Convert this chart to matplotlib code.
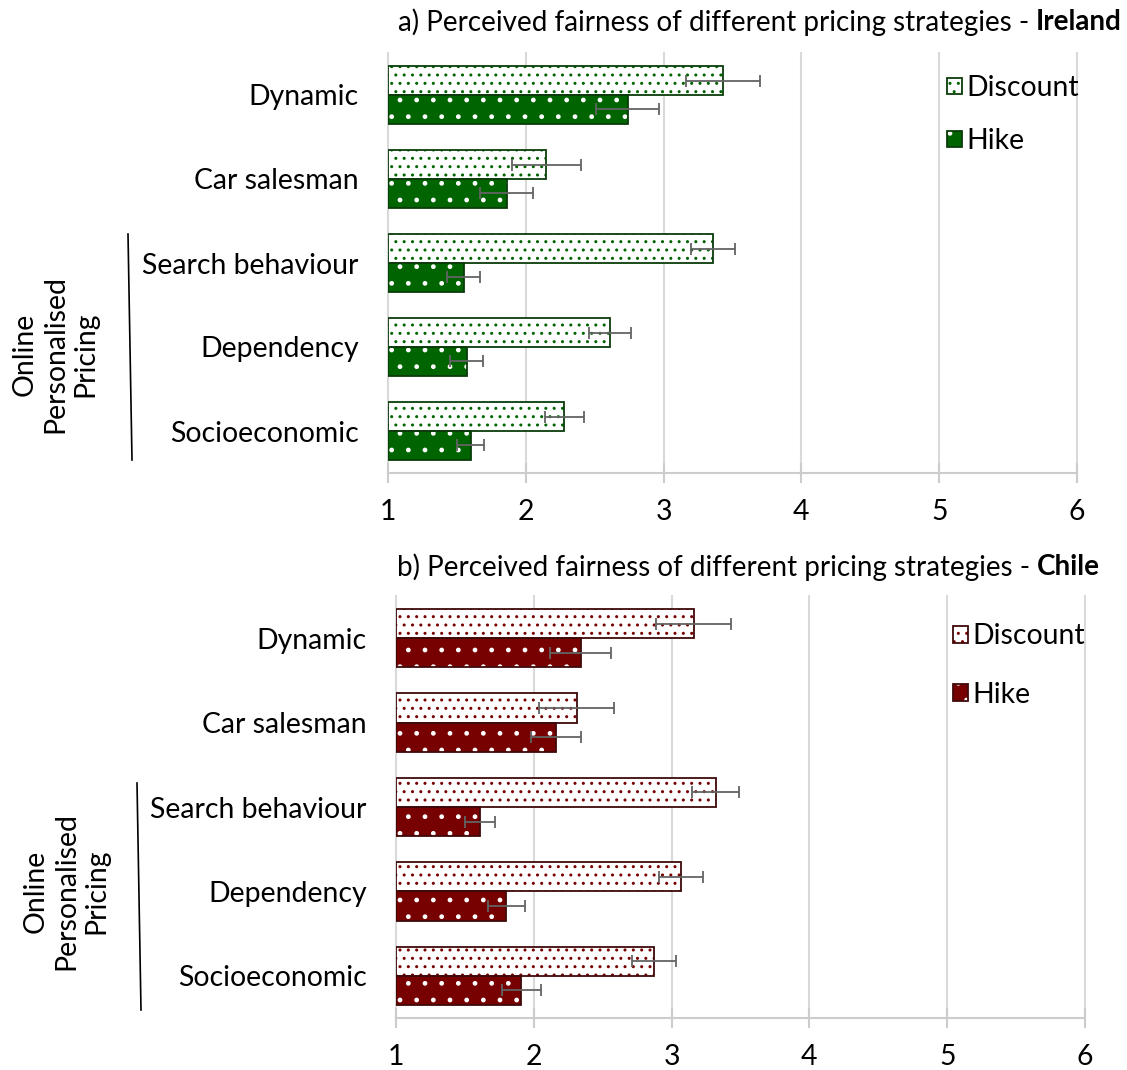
import matplotlib
matplotlib.use('Agg')
import matplotlib.pyplot as plt
from matplotlib.patches import Patch
import numpy as np

categories = ['Dynamic', 'Car salesman', 'Search behaviour', 'Dependency', 'Socioeconomic']
series = ['Discount', 'Hike']

ie_discount = [3.43, 2.15, 3.36, 2.61, 2.28]
ie_discount_err = [0.27, 0.25, 0.16, 0.15, 0.14]
ie_hike = [2.74, 1.86, 1.55, 1.57, 1.60]
ie_hike_err = [0.23, 0.19, 0.12, 0.12, 0.10]

cl_discount = [3.16, 2.31, 3.32, 3.07, 2.87]
cl_discount_err = [0.27, 0.27, 0.17, 0.16, 0.16]
cl_hike = [2.34, 2.16, 1.61, 1.80, 1.91]
cl_hike_err = [0.22, 0.18, 0.11, 0.135, 0.14]

xticks = [1, 2, 3, 4, 5, 6]
group_label = 'Online\nPersonalised\nPricing'

W, H = 1127, 1070
FS = 20.4
plt.rcParams['font.family'] = ['Lato', 'DejaVu Sans']
plt.rcParams['hatch.linewidth'] = 1.0

fig = plt.figure(figsize=(W / 100, H / 100), dpi=100)


def px(x, y):
    return x / W, 1 - y / H


def panel(rect, disc, disc_err, hike, hike_err, face, edge, title, country,
          title_xy, leg_xy, leg_space, group_xy, bracket):
    ax = fig.add_axes(rect)
    y = np.arange(len(categories))
    h = 0.345
    disc = np.array(disc)
    hike = np.array(hike)
    # discount: white with coloured dots
    ax.barh(y - h / 2, disc - 1, left=1, height=h, color='white',
            edgecolor=face, hatch='..', linewidth=0, zorder=2)
    ax.barh(y - h / 2, disc - 1, left=1, height=h, fill=False,
            edgecolor=edge, linewidth=1.3, zorder=3)
    # hike: coloured with white dots
    ax.barh(y + h / 2, hike - 1, left=1, height=h, color=face,
            edgecolor='white', hatch='.', linewidth=0, zorder=2)
    ax.barh(y + h / 2, hike - 1, left=1, height=h, fill=False,
            edgecolor=edge, linewidth=1.3, zorder=3)
    ax.errorbar(disc, y - h / 2, xerr=disc_err, fmt='none', ecolor='#636363',
                elinewidth=1.3, capsize=4, capthick=1.3, zorder=4)
    ax.errorbar(hike, y + h / 2, xerr=hike_err, fmt='none', ecolor='#636363',
                elinewidth=1.3, capsize=4, capthick=1.3, zorder=4)

    ax.set_xlim(1, 6)
    ax.set_ylim(len(categories) - 0.5, -0.5)
    ax.set_xticks(xticks)
    ax.set_xticklabels([str(t) for t in xticks], fontsize=FS)
    ax.set_yticks(y)
    ax.set_yticklabels(categories, fontsize=FS)
    ax.tick_params(axis='y', length=0, pad=21)
    ax.tick_params(axis='x', direction='inout', length=14, width=1.5,
                   color='#cccccc', pad=12)
    ax.grid(axis='x', color='#d9d9d9', linewidth=1.5)
    for gl in ax.xaxis.get_gridlines():
        gl.set_clip_on(False)
    ax.set_axisbelow(True)
    for s in ['top', 'right', 'left']:
        ax.spines[s].set_visible(False)
    ax.spines['bottom'].set_color('#cccccc')
    ax.spines['bottom'].set_linewidth(1.5)

    # legend
    hd = (Patch(facecolor='white', edgecolor=face, hatch='..', linewidth=0),
          Patch(fill=False, edgecolor=edge, linewidth=1.3))
    hh = (Patch(facecolor=face, edgecolor='white', hatch='.', linewidth=0),
          Patch(fill=False, edgecolor=edge, linewidth=1.3))
    ax.legend([hd, hh], series, loc='center left',
              bbox_to_anchor=px(*leg_xy), bbox_transform=fig.transFigure,
              frameon=False, fontsize=FS, borderpad=0, borderaxespad=0,
              handlelength=0.53, handleheight=0.53, handletextpad=0.15,
              labelspacing=leg_space)

    # title: regular text followed by bold country
    tb = fig.text(*px(*title_xy), country, fontsize=20, weight='bold',
                  ha='right', va='center')
    ax.annotate(title, xy=(0, 0.5), xycoords=tb, xytext=(-5, 0),
                textcoords='offset points', fontsize=20, ha='right',
                va='center', annotation_clip=False)

    # group label with bracket line
    fig.text(*px(*group_xy), group_label, rotation=90, fontsize=FS,
             ha='center', va='center', multialignment='center',
             linespacing=1.2)
    (x0, y0), (x1, y1) = px(*bracket[0]), px(*bracket[1])
    fig.add_artist(plt.Line2D([x0, x1], [y0, y1], color='black',
                              linewidth=1.2, transform=fig.transFigure))
    return ax


panel([388 / W, 1 - 473 / H, 689 / W, 420 / H],
      ie_discount, ie_discount_err, ie_hike, ie_hike_err,
      '#006400', '#0b3d0b',
      'a) Perceived fairness of different pricing strategies -', 'Ireland',
      (1122, 22), (947, 114.5), 0.95, (55, 354), ((128, 234), (132, 460)))

panel([396 / W, 1 - 1018 / H, 689 / W, 422 / H],
      cl_discount, cl_discount_err, cl_hike, cl_hike_err,
      '#770000', '#3f0a0a',
      'b) Perceived fairness of different pricing strategies -', 'Chile',
      (1100, 567), (953, 665.5), 1.15, (66, 891), ((137, 783), (141, 1010)))

fig.savefig('out.png', dpi=100)
